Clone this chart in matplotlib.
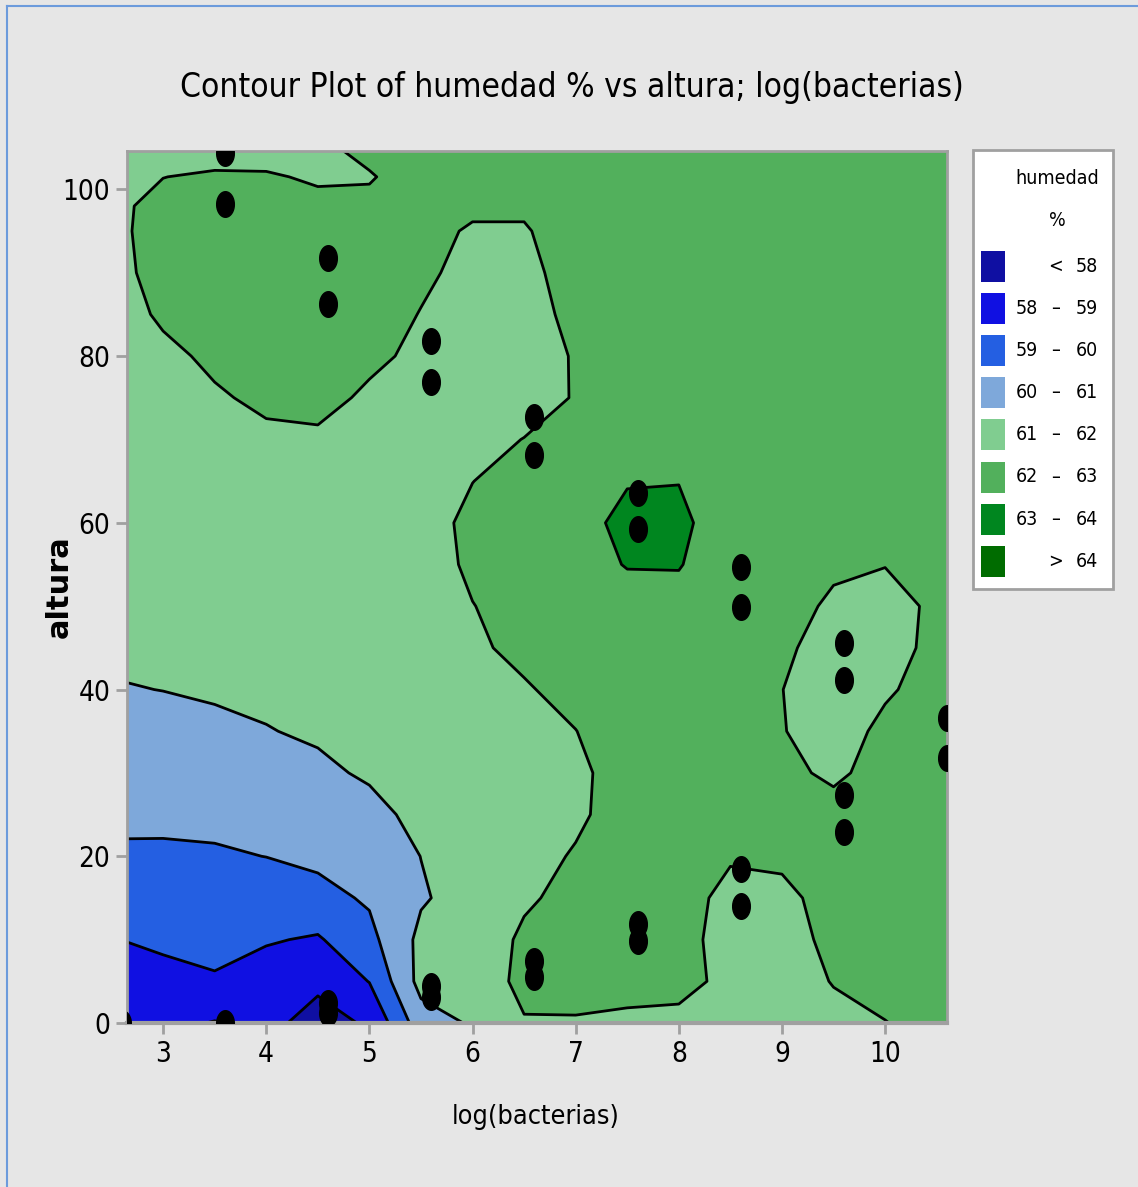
import os
import numpy as np
import matplotlib.pyplot as plt
from matplotlib import font_manager as fm
from matplotlib.path import Path
from matplotlib.patches import Rectangle
from matplotlib.lines import Line2D

# rejilla: columnas en log(bacterias), filas en altura
log_bacterias = [2.65, 3.0, 3.5, 4.0, 4.5, 5.0, 5.5, 6.0, 6.5, 7.0, 7.5, 8.0, 8.5, 9.0, 9.5, 10.0, 10.6]
altura = [0, 5, 10, 15, 20, 25, 30, 35, 40, 45, 50, 55, 60, 65, 70, 75, 80, 85, 90, 95, 98, 101.5, 104.6]

# humedad % estimada, una lista por columna (de altura 0 hacia arriba)
humedad_cols = [
    [58.2, 58.5, 59.03, 59.45, 59.87, 60.18, 60.45, 60.71, 60.97, 61.15, 61.3, 61.4, 61.5, 61.6, 61.65, 61.7, 61.8, 61.85, 61.93, 61.96, 61.95, 61.85, 61.7],
    [58.25, 58.72, 59.16, 59.52, 59.88, 60.16, 60.48, 60.74, 61.01, 61.12, 61.25, 61.37, 61.48, 61.58, 61.68, 61.78, 61.88, 62.08, 62.2, 62.25, 62.2, 61.99, 61.75],
    [57.95, 58.9, 59.3, 59.6, 59.9, 60.22, 60.5, 60.82, 61.1, 61.2, 61.32, 61.45, 61.55, 61.68, 61.8, 61.94, 62.1, 62.25, 62.35, 62.38, 62.3, 62.1, 61.7],
    [58.2, 58.55, 59.08, 59.5, 60.01, 60.3, 60.6, 60.97, 61.15, 61.3, 61.42, 61.53, 61.63, 61.75, 61.9, 62.1, 62.3, 62.42, 62.48, 62.48, 62.4, 62.08, 61.7],
    [57.72, 58.15, 58.9, 59.7, 60.2, 60.5, 60.85, 61.1, 61.25, 61.35, 61.45, 61.55, 61.65, 61.77, 61.92, 62.15, 62.35, 62.45, 62.45, 62.38, 62.2, 61.9, 61.85],
    [58.09, 59.03, 59.72, 60.12, 60.4, 60.76, 61.1, 61.25, 61.35, 61.42, 61.5, 61.57, 61.63, 61.7, 61.8, 61.92, 62.1, 62.25, 62.35, 62.35, 62.15, 61.95, 62.15],
    [60.55, 61.32, 61.24, 60.9, 61.01, 61.22, 61.3, 61.38, 61.45, 61.5, 61.55, 61.6, 61.65, 61.7, 61.75, 61.8, 61.9, 61.98, 62.1, 62.2, 62.25, 62.3, 62.3],
    [61.1, 61.3, 61.45, 61.4, 61.5, 61.6, 61.68, 61.75, 61.82, 61.9, 61.98, 62.15, 62.2, 61.99, 61.85, 61.8, 61.78, 61.78, 61.84, 61.93, 62.12, 62.35, 62.4],
    [61.92, 62.3, 62.15, 61.88, 61.75, 61.7, 61.72, 61.8, 61.94, 62.15, 62.3, 62.4, 62.45, 62.3, 62.01, 61.8, 61.7, 61.7, 61.8, 61.93, 62.12, 62.4, 62.45],
    [61.93, 62.3, 62.35, 62.25, 62.06, 61.88, 61.85, 61.99, 62.2, 62.35, 62.45, 62.6, 62.7, 62.5, 62.2, 62.03, 62.05, 62.2, 62.3, 62.4, 62.45, 62.5, 62.5],
    [61.8, 62.35, 62.4, 62.4, 62.35, 62.3, 62.3, 62.35, 62.45, 62.55, 62.6, 63.05, 63.22, 62.95, 62.6, 62.5, 62.5, 62.5, 62.5, 62.55, 62.55, 62.55, 62.55],
    [61.75, 62.3, 62.35, 62.35, 62.4, 62.45, 62.5, 62.55, 62.6, 62.65, 62.7, 63.05, 63.2, 62.98, 62.65, 62.55, 62.5, 62.5, 62.5, 62.5, 62.5, 62.5, 62.5],
    [61.5, 61.75, 61.6, 61.75, 62.08, 62.3, 62.4, 62.45, 62.45, 62.4, 62.4, 62.45, 62.5, 62.5, 62.5, 62.5, 62.5, 62.5, 62.5, 62.5, 62.5, 62.5, 62.5],
    [61.4, 61.5, 61.6, 61.8, 62.15, 62.3, 62.2, 62.03, 62.01, 62.15, 62.35, 62.5, 62.55, 62.55, 62.55, 62.55, 62.55, 62.55, 62.55, 62.55, 62.55, 62.55, 62.55],
    [61.7, 62.05, 62.25, 62.3, 62.3, 62.3, 61.85, 61.7, 61.6, 61.65, 61.85, 62.15, 62.4, 62.5, 62.5, 62.5, 62.5, 62.5, 62.5, 62.5, 62.5, 62.5, 62.5],
    [61.98, 62.25, 62.35, 62.4, 62.4, 62.4, 62.3, 62.15, 61.92, 61.75, 61.75, 62.02, 62.3, 62.45, 62.5, 62.5, 62.5, 62.5, 62.5, 62.5, 62.5, 62.5, 62.5],
    [62.3, 62.4, 62.45, 62.45, 62.45, 62.45, 62.4, 62.35, 62.3, 62.25, 62.2, 62.35, 62.45, 62.5, 62.5, 62.5, 62.5, 62.5, 62.5, 62.5, 62.5, 62.5, 62.5],
]

# puntos medidos
puntos_x = [2.6, 3.6, 3.6, 3.6, 4.6, 4.6, 4.6, 4.6, 5.6, 5.6, 5.6, 5.6, 6.6, 6.6, 6.6, 6.6,
            7.6, 7.6, 7.6, 7.6, 8.6, 8.6, 8.6, 8.6, 9.6, 9.6, 9.6, 9.6, 10.6, 10.6]
puntos_y = [0, 0, 98.2, 104.4, 1.2, 2.4, 86.3, 91.8, 3.1, 4.4, 76.9, 81.8, 5.5, 7.4, 68.1, 72.7,
            9.8, 11.9, 59.3, 63.6, 14.0, 18.5, 49.9, 54.7, 22.9, 27.4, 41.1, 45.6, 31.8, 36.6]

niveles = [50, 58, 59, 60, 61, 62, 63, 64, 70]
colores = ['#0f0fa2', '#1010e2', '#245fe2', '#7ea8da', '#80cd90', '#52b05c', '#00861f', '#006c00']
etiquetas = [('', '<', '58'), ('58', '\u2013', '59'), ('59', '\u2013', '60'), ('60', '\u2013', '61'),
             ('61', '\u2013', '62'), ('62', '\u2013', '63'), ('63', '\u2013', '64'), ('', '>', '64')]


def fuente_estrecha():
    # Minitab usa una letra estrecha; buscar una condensada instalada
    preferidas = ['liberationsansnarrow-regular', 'dejavusanscondensed.', 'robotocondensed-regular',
                  'roboto_condensed-regular', 'opensans_condensed-regular', 'opensanscondensed-regular',
                  'notosans-condensed.', 'notosanscondensed-regular']
    archivos = fm.findSystemFonts()
    for p in preferidas:
        for f in archivos:
            if p in os.path.basename(f).lower().replace(' ', ''):
                return fm.FontProperties(fname=f)
    return fm.FontProperties(family='DejaVu Sans', stretch='condensed')


BASE = fuente_estrecha()


def fuente(size):
    p = BASE.copy()
    p.set_size(size)
    return p


W, H = 1138, 1187

fig = plt.figure(figsize=(W / 100, H / 100), dpi=100, facecolor='#e6e6e6')
ax = fig.add_axes([127 / W, 1 - 1023 / H, 820 / W, 872 / H])

Z = np.array(humedad_cols).T
ax.contourf(log_bacterias, altura, Z, levels=niveles, colors=colores)
ax.contour(log_bacterias, altura, Z, levels=niveles[1:-1], colors='black', linewidths=2.0)

t = np.linspace(0, 2 * np.pi, 40)
elipse = Path(np.column_stack([np.cos(t), 1.45 * np.sin(t)]))
ax.scatter(puntos_x, puntos_y, marker=elipse, s=340, c='black', zorder=5)

ax.set_xlim(2.65, 10.6)
ax.set_ylim(0, 104.6)
ax.set_xticks(range(3, 11))
ax.set_yticks(range(0, 101, 20))
for s in ax.spines.values():
    s.set_color('#a0a0a0')
    s.set_linewidth(2)
ax.spines['bottom'].set_linewidth(3)
ax.tick_params(colors='#a0a0a0', length=8, width=2, labelcolor='black', pad=4)
for lab in ax.get_xticklabels() + ax.get_yticklabels():
    lab.set_fontproperties(fuente(20))


def fx(px):
    return px / W


def fy(py):
    return 1 - py / H


renderer = fig.canvas.get_renderer()


def ajustar_ancho(txt, ancho_px):
    w = txt.get_window_extent(renderer).width
    txt.set_fontsize(txt.get_fontsize() * ancho_px / w)


titulo = fig.text(fx(572), fy(88), 'Contour Plot of humedad % vs altura; log(bacterias)',
                  fontproperties=fuente(30), ha='center', va='center')
ajustar_ancho(titulo, 782)
xlab = fig.text(fx(536), fy(1117), 'log(bacterias)', fontproperties=fuente(25), ha='center', va='center')
ajustar_ancho(xlab, 168)
fig.text(fx(59), fy(587), 'altura', fontsize=22, fontweight='bold', rotation=90, ha='center', va='center')

# leyenda dibujada a mano como en Minitab
fig.patches.append(Rectangle((fx(973), fy(589)), fx(1113) - fx(973), fy(150) - fy(589),
                             transform=fig.transFigure, facecolor='white', edgecolor='#a0a0a0', lw=2))
tit_ley = fig.text(fx(1057), fy(179), 'humedad', fontproperties=fuente(18), ha='center', va='center')
ajustar_ancho(tit_ley, 83)
fig.text(fx(1057), fy(220), '%', fontproperties=fuente(tit_ley.get_fontsize()), ha='center', va='center')
for i, (color, (lo, sep, hi)) in enumerate(zip(colores, etiquetas)):
    yc = 266 + i * 42.2
    fig.patches.append(Rectangle((fx(981), fy(yc + 15.5)), fx(24), 31 / H,
                                 transform=fig.transFigure, facecolor=color, edgecolor='none'))
    for txt, xc in ((lo, 1027), (sep, 1056), (hi, 1087)):
        fig.text(fx(xc), fy(yc), txt, fontproperties=fuente(tit_ley.get_fontsize()), ha='center', va='center')

# marco azul del grafico
fig.add_artist(Line2D([fx(7), fx(7)], [fy(1187), fy(6)], transform=fig.transFigure, color='#6c9bdc', lw=1.5))
fig.add_artist(Line2D([fx(7), fx(1138)], [fy(6), fy(6)], transform=fig.transFigure, color='#6c9bdc', lw=1.5))

fig.savefig('out.png', dpi=100, facecolor=fig.get_facecolor())
